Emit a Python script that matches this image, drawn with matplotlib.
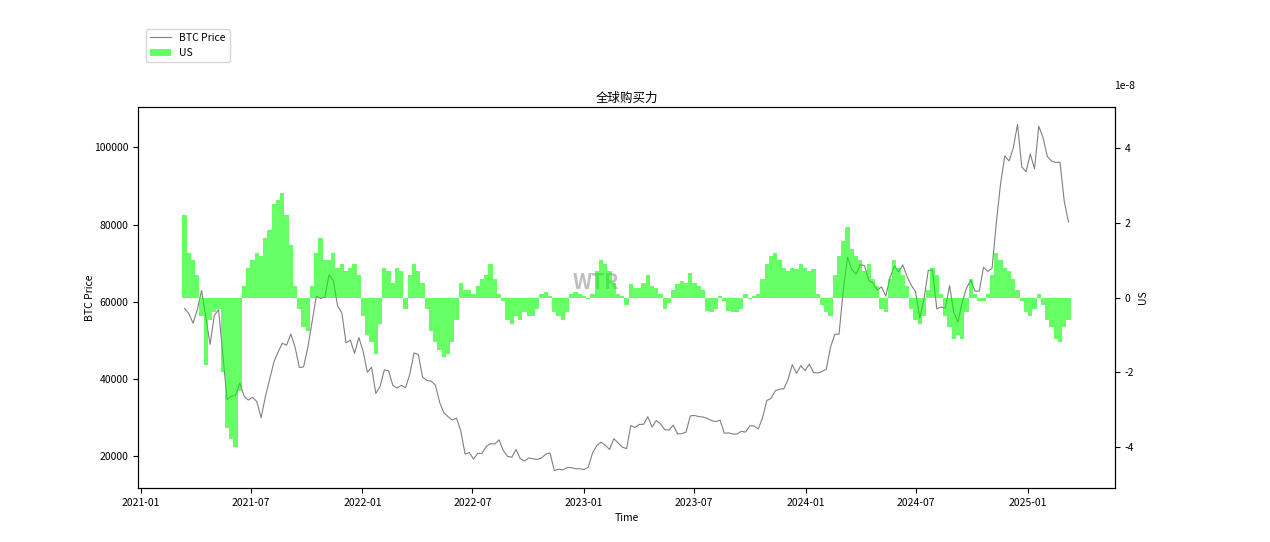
import pandas as pd
import matplotlib
matplotlib.use("Agg")
import matplotlib.pyplot as plt
import matplotlib.dates as mdates

plt.rcParams['font.family'] = ['Noto Sans CJK SC', 'DejaVu Sans']
plt.rcParams['axes.unicode_minus'] = False

# weekly samples, first week 2021-03-14
start_date = '2021-03-14'

btc_price = [
    # 2021
    58300, 57000, 54500, 58000, 63000, 56000, 49000, 56500, 58000, 46500,
    34700, 35600, 35800, 39000, 35600, 34600, 35300, 34200, 30000, 35400,
    39900, 44400, 47000, 49300, 48800, 51700, 48300, 43000, 43200, 48200,
    54900, 61500, 60900, 61300, 67000, 65500, 59000, 57200, 49400, 50100,
    46700, 50800,
    # 2022
    47300, 41800, 43100, 36300, 38100, 42400, 42200, 38400, 37700, 38400,
    37800, 41300, 46800, 46400, 40500, 39700, 39500, 38500, 34100, 31300,
    30300, 29400, 29900, 26600, 20600, 21000, 19300, 20800, 20800, 22600,
    23300, 23200, 24300, 21500, 20000, 19800, 21800, 19400, 18800, 19600,
    19400, 19200, 19600, 20600, 20900, 16300, 16700, 16500, 17100, 17100,
    16800, 16800,
    # 2023
    16600, 17200, 20900, 22800, 23700, 22900, 21800, 24600, 23500, 22400,
    22000, 28000, 27500, 28300, 28300, 30300, 27600, 29300, 28400, 26900,
    26800, 28100, 25800, 25900, 26300, 30500, 30600, 30300, 30200, 29800,
    29300, 29000, 29400, 26000, 26100, 25800, 25800, 26500, 26300, 27900,
    27900, 27100, 30000, 34500, 35000, 37000, 37400, 37500, 39900, 43800,
    41500, 43500, 42200,
    # 2024
    43900, 41700, 41600, 42000, 42600, 48300, 51600, 51700, 63100, 71500,
    68400, 67200, 69700, 69400, 65600, 64900, 63100, 63900, 61500, 66300,
    69300, 67800, 69600, 66600, 64300, 62700, 55800, 60800, 68200, 68300,
    58200, 58700, 58400, 64200, 57300, 54800, 60000, 63600, 65600, 62800,
    62800, 69000, 67900, 68700, 80400, 90600, 97800, 96500, 99900, 106000,
    95000, 93700,
    # 2025
    98300, 94500, 105500, 102600, 97700, 96500, 96100, 96200, 86000, 80700,
]

# US buying power, in units of 1e-8
us_power = [
    2.2, 1.2, 1.0, 0.6, -0.5, -1.8, -0.6, -0.4, -0.3, -2.0,
    -3.5, -3.8, -4.0, -2.5, 0.3, 0.8, 1.0, 1.2, 1.1, 1.6,
    1.8, 2.5, 2.6, 2.8, 2.2, 1.4, 0.3, -0.3, -0.8, -0.9,
    0.3, 1.2, 1.6, 1.0, 1.0, 1.2, 0.8, 0.9, 0.7, 0.8,
    0.9, 0.6, -0.5, -1.0, -1.2, -1.5, -0.7, 0.8, 0.7, 0.4,
    0.8, 0.7, -0.3, 0.6, 0.9, 0.7, 0.4, -0.3, -0.9, -1.2,
    -1.4, -1.6, -1.5, -1.2, -0.6, 0.4, 0.2, 0.2, 0.1, 0.3,
    0.5, 0.6, 0.9, 0.5, 0.1, -0.1, -0.6, -0.7, -0.5, -0.6,
    -0.4, -0.5, -0.5, -0.3, 0.1, 0.15, 0.05, -0.4, -0.5, -0.6,
    -0.4, 0.1, 0.15, 0.1, 0.05, -0.05, 0.1, 0.7, 1.0, 0.9,
    0.7, 0.4, 0.1, 0.05, -0.2, 0.35, 0.25, 0.25, 0.4, 0.6,
    0.3, 0.25, 0.1, -0.3, -0.15, 0.2, 0.35, 0.45, 0.4, 0.65,
    0.4, 0.3, 0.2, -0.35, -0.4, -0.3, 0.05, -0.1, -0.35, -0.4,
    -0.4, -0.3, 0.1, -0.05, 0.05, 0.1, 0.5, 0.9, 1.1, 1.2,
    1.0, 0.8, 0.7, 0.8, 0.75, 0.9, 0.8, 0.7, 0.75, 0.1,
    -0.2, -0.4, -0.5, 0.6, 1.1, 1.5, 1.9, 1.3, 1.1, 1.0,
    0.7, 0.9, 0.5, 0.3, -0.3, -0.4, 0.5, 1.0, 0.8, 0.6,
    0.3, -0.3, -0.6, -0.7, -0.5, 0.2, 0.8, 0.6, 0.1, -0.5,
    -0.8, -1.1, -1.0, -1.1, -0.4, 0.5, 0.1, -0.1, -0.1, 0.1,
    0.6, 1.2, 1.0, 0.8, 0.7, 0.5, 0.2, -0.1, -0.4, -0.5,
    -0.3, 0.1, -0.2, -0.6, -0.8, -1.1, -1.2, -0.8, -0.6,
]

dates = pd.date_range(start_date, periods=len(btc_price), freq='7D')
us_vals = [v * 1e-8 for v in us_power]

fig = plt.figure(figsize=(12.7, 5.42), dpi=100)
ax1 = fig.add_axes([0.1087, 0.0996, 0.7693, 0.703])
ax2 = ax1.twinx()

line, = ax1.plot(dates, btc_price, color='gray', linewidth=0.8, label='BTC Price')
bars = ax2.bar(dates, us_vals, width=7, color='lime', alpha=0.6, linewidth=0, label='US')

ax2.set_ylim(-5.1e-8, 5.1e-8)
ax1.xaxis.set_major_formatter(mdates.DateFormatter('%Y-%m'))

ax1.set_title('全球购买力', fontsize=9, pad=4)
ax1.set_xlabel('Time', fontsize=7.5)
ax1.set_ylabel('BTC Price', fontsize=7.5)
ax2.set_ylabel('US', fontsize=7.5)
ax1.yaxis.set_label_coords(-0.044, 0.5)
ax2.yaxis.set_label_coords(1.0235, 0.5)
ax1.tick_params(labelsize=7.5)
ax2.tick_params(labelsize=7.5)

# scale note of the right axis, placed as in the original
ax2.yaxis.get_offset_text().set_visible(False)
fig.text(1125 / 1270, 1 - 86 / 542, '1e-8', fontsize=7.5, ha='center', va='center')

ax1.text(0.468, 0.54, 'WTR', transform=ax1.transAxes, fontsize=15,
         fontweight='bold', color='gray', alpha=0.5, ha='center', va='center')

fig.legend([line, bars], ['BTC Price', 'US'], loc='upper left',
           bbox_to_anchor=(0.115, 0.947), fontsize=7.5, borderaxespad=0)

fig.savefig('out.png')
